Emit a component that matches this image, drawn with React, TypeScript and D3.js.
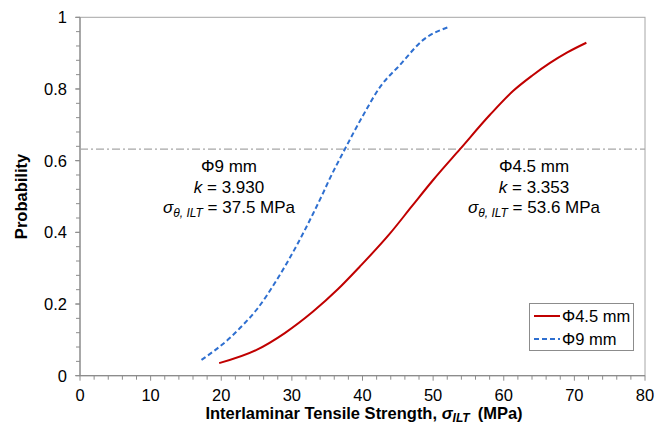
import React, { useEffect, useRef } from 'react';
import * as d3 from 'd3';

// readings: strength (MPa) vs cumulative probability
const phi45Strength = [19.7, 25.0, 29.0, 33.0, 36.5, 39.6, 43.9, 47.0, 50.0, 53.8, 58.05, 61.35, 64.0, 66.5, 69.0, 71.7];
const phi45Prob = [0.035, 0.072, 0.119, 0.179, 0.241, 0.304, 0.397, 0.473, 0.546, 0.632, 0.728, 0.795, 0.837, 0.872, 0.902, 0.929];

const phi9Strength = [17.2, 21.2, 23.1, 25.0, 27.85, 30.7, 33.0, 34.45, 35.2, 37.5, 40.1, 42.5, 45.3, 48.6, 52.06];
const phi9Prob = [0.044, 0.105, 0.142, 0.184, 0.267, 0.364, 0.452, 0.511, 0.543, 0.632, 0.727, 0.806, 0.867, 0.937, 0.972];

const xTicks = [0, 10, 20, 30, 40, 50, 60, 70, 80];
const yTicks = [0, 0.2, 0.4, 0.6, 0.8, 1];
const refProb = 0.632;

const W = 672;
const H = 427;
const FONT = '"Liberation Sans", Arial, sans-serif';

export default function App() {
  const svgRef = useRef<SVGSVGElement | null>(null);

  useEffect(() => {
    const svg = d3.select(svgRef.current);
    svg.selectAll('*').remove();

    const x = d3.scaleLinear().domain([0, 80]).range([80, 645]);
    const y = d3.scaleLinear().domain([0, 1]).range([375.7, 17.3]);

    const axisColor = '#8c8c8c';
    const g = svg.append('g').style('font-family', FONT);

    // frame (top/right)
    g.append('rect')
      .attr('x', x(0)).attr('y', y(1))
      .attr('width', x(80) - x(0)).attr('height', y(0) - y(1))
      .attr('fill', 'none').attr('stroke', '#a6a6a6').attr('stroke-width', 1);

    // minor ticks
    const xMinor = d3.range(0, 81, 2);
    const yMinor = d3.range(0, 1.0001, 0.04);
    g.append('g').selectAll('line').data(xMinor).enter().append('line')
      .attr('x1', d => x(d)).attr('x2', d => x(d))
      .attr('y1', y(0)).attr('y2', d => y(0) + (d % 10 === 0 ? 5 : 4))
      .attr('stroke', axisColor).attr('stroke-width', 1);
    g.append('g').selectAll('line').data(yMinor).enter().append('line')
      .attr('y1', d => y(d)).attr('y2', d => y(d))
      .attr('x1', x(0)).attr('x2', x(0) - 4)
      .attr('stroke', axisColor).attr('stroke-width', 1);
    g.append('g').selectAll('line').data(yTicks).enter().append('line')
      .attr('y1', d => y(d)).attr('y2', d => y(d))
      .attr('x1', x(0)).attr('x2', x(0) - 5)
      .attr('stroke', axisColor).attr('stroke-width', 1);

    // axis lines
    g.append('line').attr('x1', x(0)).attr('x2', x(80)).attr('y1', y(0)).attr('y2', y(0))
      .attr('stroke', axisColor).attr('stroke-width', 1.2);
    g.append('line').attr('x1', x(0)).attr('x2', x(0)).attr('y1', y(0)).attr('y2', y(1))
      .attr('stroke', axisColor).attr('stroke-width', 1.2);

    // tick labels
    g.append('g').selectAll('text').data(xTicks).enter().append('text')
      .attr('x', d => x(d)).attr('y', y(0) + 25)
      .attr('text-anchor', 'middle').attr('font-size', 16.5).attr('fill', '#000')
      .text(d => String(d));
    g.append('g').selectAll('text').data(yTicks).enter().append('text')
      .attr('x', x(0) - 13).attr('y', d => y(d) + 6)
      .attr('text-anchor', 'end').attr('font-size', 16.5).attr('fill', '#000')
      .text(d => String(d));

    // reference line at 63.2%
    g.append('line').attr('x1', x(0)).attr('x2', x(80)).attr('y1', y(refProb)).attr('y2', y(refProb))
      .attr('stroke', '#a6a6a6').attr('stroke-width', 1.2).attr('stroke-dasharray', '8,3,2,3');

    const line = d3.line<[number, number]>()
      .x(d => x(d[0])).y(d => y(d[1]))
      .curve(d3.curveMonotoneX);

    const blue = phi9Strength.map((s, i) => [s, phi9Prob[i]] as [number, number]);
    const red = phi45Strength.map((s, i) => [s, phi45Prob[i]] as [number, number]);

    g.append('path').attr('d', line(blue)).attr('fill', 'none')
      .attr('stroke', '#2e6fd0').attr('stroke-width', 2).attr('stroke-dasharray', '5,3');
    g.append('path').attr('d', line(red)).attr('fill', 'none')
      .attr('stroke', '#c00000').attr('stroke-width', 2);

    // annotations
    const annot = (cx: number, name: string, k: string, s: string) => {
      const a = g.append('g').attr('font-size', 17).attr('fill', '#000');
      a.append('text').attr('x', cx).attr('y', 172).attr('text-anchor', 'middle').text(name);
      const t2 = a.append('text').attr('x', cx).attr('y', 193).attr('text-anchor', 'middle');
      t2.append('tspan').attr('font-style', 'italic').text('k');
      t2.append('tspan').text(` = ${k}`);
      const t3 = a.append('text').attr('x', cx).attr('y', 213).attr('text-anchor', 'middle');
      t3.append('tspan').attr('font-style', 'italic').text('σ');
      t3.append('tspan').attr('font-style', 'italic').attr('font-size', 12).attr('dy', 4).text('θ, ILT');
      t3.append('tspan').attr('dy', -4).text(` = ${s} MPa`);
    };
    annot(229, 'Φ9 mm', '3.930', '37.5');
    annot(534, 'Φ4.5 mm', '3.353', '53.6');

    // axis titles
    const xt = g.append('text').attr('x', 364).attr('y', 419).attr('text-anchor', 'middle')
      .attr('font-size', 16.5).attr('font-weight', 'bold').attr('fill', '#000');
    xt.append('tspan').text('Interlaminar Tensile Strength, ');
    xt.append('tspan').attr('font-style', 'italic').text('σ');
    xt.append('tspan').attr('font-style', 'italic').attr('font-size', 12).attr('dy', 3).text('ILT');
    xt.append('tspan').attr('dy', -3).attr('dx', 8).text('(MPa)');

    g.append('text')
      .attr('transform', `translate(27,${(y(0) + y(1)) / 2}) rotate(-90)`)
      .attr('text-anchor', 'middle').attr('font-size', 16.5).attr('font-weight', 'bold').attr('fill', '#000')
      .text('Probability');

    // legend
    const lg = g.append('g');
    lg.append('rect').attr('x', 529.5).attr('y', 303.5).attr('width', 104).attr('height', 47)
      .attr('fill', '#fff').attr('stroke', '#8c8c8c').attr('stroke-width', 1);
    const items = [
      { label: 'Φ4.5 mm', color: '#c00000', dash: null as string | null },
      { label: 'Φ9 mm', color: '#2e6fd0', dash: '5,3' },
    ];
    items.forEach((it, i) => {
      const cy = 316 + i * 23;
      lg.append('line').attr('x1', 534).attr('x2', 560).attr('y1', cy).attr('y2', cy)
        .attr('stroke', it.color).attr('stroke-width', 2)
        .attr('stroke-dasharray', it.dash);
      lg.append('text').attr('x', 562).attr('y', cy + 6).attr('font-size', 16.5).attr('fill', '#000')
        .text(it.label);
    });
  }, []);

  return (
    <div style={{ position: 'fixed', left: 0, top: 0, width: W, height: H, background: '#fff' }}>
      <svg ref={svgRef} width={W} height={H} style={{ display: 'block' }} />
    </div>
  );
}
